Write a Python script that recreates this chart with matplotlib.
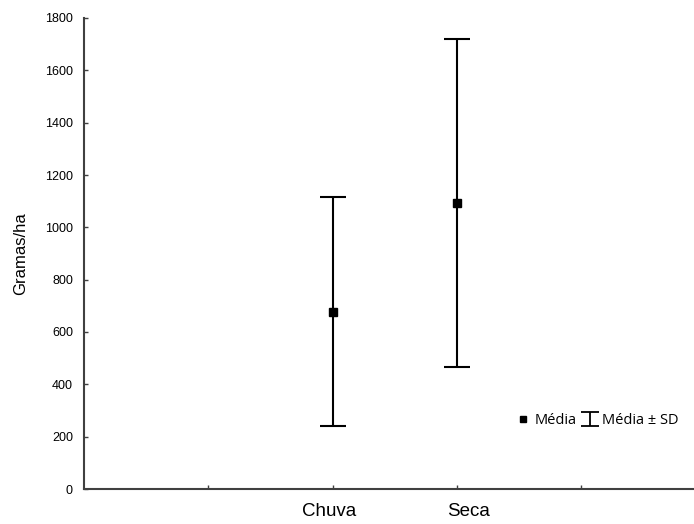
import numpy as np
import matplotlib
matplotlib.use('Agg')
import matplotlib.pyplot as plt
import matplotlib.transforms as mtransforms
from matplotlib.lines import Line2D

categories = ["Chuva", "Seca"]
means = [677, 1093]
sds = [438, 627]
yticks = [0, 200, 400, 600, 800, 1000, 1200, 1400, 1600, 1800]

AXIS_CLR = "#404040"

plt.rcParams['font.family'] = ['Liberation Sans', 'DejaVu Sans']

fig = plt.figure(figsize=(6.94, 5.24), dpi=100, facecolor='white')
# axes run past the right edge of the figure, like the cropped original
ax = fig.add_axes([84 / 694, 35 / 524, 621.5 / 694, 471 / 524])

xpos = np.arange(len(categories)) + 2
ax.errorbar(xpos, means, yerr=sds, fmt='s', color='black', ms=5.5,
            elinewidth=1.5, capsize=9.5, capthick=1.5)

ax.set_xlim(0, 5)
ax.set_ylim(0, 1800)
ax.set_xticks([1, 2, 3, 4])
ax.set_xticklabels([""] + categories + [""], fontsize=13.5)
ax.set_yticks(yticks)
ax.set_yticklabels([str(v) for v in yticks], fontsize=9)
ax.tick_params(axis='both', direction='in', length=3, width=1,
               color=AXIS_CLR, pad=8)
ax.tick_params(axis='x', pad=10)
for side in ('top', 'right'):
    ax.spines[side].set_visible(False)
for side in ('left', 'bottom'):
    ax.spines[side].set_color(AXIS_CLR)
    ax.spines[side].set_linewidth(1.5)
ax.set_ylabel("Gramas/ha", fontsize=12, labelpad=12)

# category labels in the original sit a little off their ticks
shifts = [0, -3, 12, 0]
for lab, dx in zip(ax.get_xticklabels(), shifts):
    lab.set_transform(lab.get_transform() +
                      mtransforms.ScaledTranslation(dx / 100, 0, fig.dpi_scale_trans))

mean_h = Line2D([], [], marker='s', ls='none', color='black', ms=5)
sd_h = ax.errorbar([np.nan], [np.nan], yerr=[1], fmt='none', color='black',
                   elinewidth=1.3, capsize=6.5, capthick=1.3)
ax.legend([mean_h, sd_h], ["Média", "Média ± SD"], ncol=2, frameon=False,
          loc='center left', bbox_to_anchor=(0.674, 0.145),
          prop={'family': 'Open Sans', 'size': 10.5},
          handlelength=0.9, handletextpad=0.35, columnspacing=0.5)

fig.savefig("out.png", dpi=100, facecolor='white')
